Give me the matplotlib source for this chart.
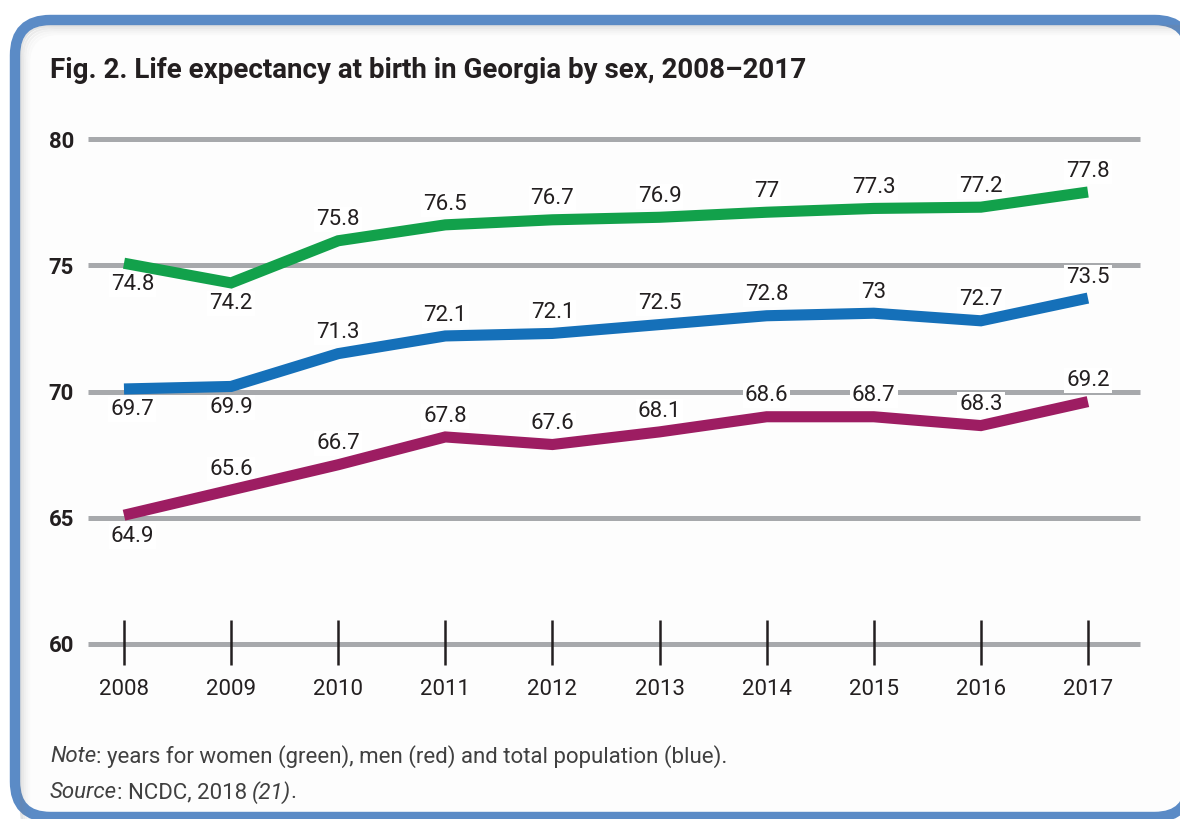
import matplotlib
matplotlib.use('Agg')
import matplotlib.pyplot as plt
from matplotlib.patches import FancyBboxPatch

plt.rcParams['font.family'] = ['Roboto', 'DejaVu Sans']

# data
years = [2008, 2009, 2010, 2011, 2012, 2013, 2014, 2015, 2016, 2017]

# values printed on the chart
women = [74.8, 74.2, 75.8, 76.5, 76.7, 76.9, 77, 77.3, 77.2, 77.8]
total = [69.7, 69.9, 71.3, 72.1, 72.1, 72.5, 72.8, 73, 72.7, 73.5]
men = [64.9, 65.6, 66.7, 67.8, 67.6, 68.1, 68.6, 68.7, 68.3, 69.2]

# where the lines sit in the original figure (slightly off the printed numbers)
women_line = [75.08, 74.3, 75.97, 76.6, 76.8, 76.9, 77.1, 77.25, 77.3, 77.9]
total_line = [70.1, 70.2, 71.5, 72.2, 72.3, 72.65, 73.0, 73.1, 72.8, 73.7]
men_line = [65.1, 66.1, 67.1, 68.2, 67.9, 68.4, 69.0, 69.0, 68.65, 69.6]

# label above (1) or below (-1) the line
women_side = [-1, -1, 1, 1, 1, 1, 1, 1, 1, 1]
total_side = [-1, -1, 1, 1, 1, 1, 1, 1, 1, 1]
men_side = [-1, 1, 1, 1, 1, 1, 1, 1, 1, 1]

yticks = [60, 65, 70, 75, 80]

W, H = 1180, 819
fig = plt.figure(figsize=(W / 100, H / 100), dpi=100)
fig.patch.set_facecolor('white')

def fx(x):
    return x / W

def fy(y):
    return 1 - y / H

# framed box (right side runs off the picture)
frame = FancyBboxPatch((fx(15), fy(817)), fx(1190) - fx(15), fy(20) - fy(817),
                       boxstyle='round,pad=0,rounding_size=0.03',
                       transform=fig.transFigure, fc='#fdfdfd', ec='#5b8bc6',
                       lw=7.5, zorder=0, mutation_aspect=W / H)
fig.add_artist(frame)
# soft inner shadow along the top and left
for i, a in enumerate([0.2, 0.14, 0.09, 0.05, 0.03]):
    sh = FancyBboxPatch((fx(21 + 2 * i), fy(840)), fx(1220) - fx(21 + 2 * i), fy(26 + 2 * i) - fy(840),
                        boxstyle='round,pad=0,rounding_size=0.025',
                        transform=fig.transFigure, fc='none', ec='#808080',
                        alpha=a, lw=1.6, zorder=0.5, mutation_aspect=W / H)
    fig.add_artist(sh)

ax = fig.add_axes([fx(88), fy(644), fx(1140) - fx(88), fy(139) - fy(644)])
ax.set_facecolor('none')
ax.set_xlim(2007.664, 2017.486)
ax.set_ylim(60, 80)
for s in ax.spines.values():
    s.set_visible(False)

for t in yticks:
    ax.axhline(t, color='#a7a9ac', lw=3.6, zorder=1, solid_capstyle='butt', clip_on=False)

ax.vlines(years, 59.17, 60.95, color='#231f20', lw=1.8, zorder=2, clip_on=False)

ax.set_yticks(yticks)
ax.set_yticklabels([str(t) for t in yticks], fontsize=16, fontweight='bold', color='#231f20')
ax.tick_params(axis='y', length=0, pad=10)
ax.set_xticks(years)
ax.set_xticklabels([str(y) for y in years], fontsize=16, color='#231f20')
ax.tick_params(axis='x', length=0, pad=25)

series = [
    (women_line, women, women_side, '#12a14b'),
    (total_line, total, total_side, '#1570b9'),
    (men_line, men, men_side, '#9d1d62'),
]
for line, vals, side, col in series:
    ax.plot(years, line, color=col, lw=8, zorder=4, solid_capstyle='butt', solid_joinstyle='miter')
    for i, (yr, yv, v, sd) in enumerate(zip(years, line, vals, side)):
        dx = 6 if i == 0 else 0
        ax.annotate(f'{v:g}', (yr, yv), xytext=(dx, sd * 15), textcoords='offset points',
                    ha='center', va='center', fontsize=16, color='#231f20',
                    bbox=dict(fc='white', ec='none', pad=1.5), zorder=3)

fig.text(fx(50), fy(70), 'Fig. 2. Life expectancy at birth in Georgia by sex, 2008\u20132017',
         fontsize=20, fontweight='bold', color='#231f20', va='center', ha='left')

# note and source lines, pieces set one after the other
fs = 16
tc = '#404040'

def line_parts(parts, y):
    x = fx(50)
    for txt, st in parts:
        t = fig.text(x, fy(y), txt, fontsize=fs, style=st, color=tc, va='center', ha='left')
        fig.canvas.draw()
        x = t.get_window_extent().x1 / W
        if st == 'italic':
            x -= fx(0.5)

line_parts([('Note', 'italic'),
            (': years for women (green), men (red) and total population (blue).', 'normal')], 757)
line_parts([('Source', 'italic'), (': NCDC, 2018 ', 'normal'), ('(21)', 'italic'), ('.', 'normal')], 793)

fig.savefig('out.png', dpi=100)
